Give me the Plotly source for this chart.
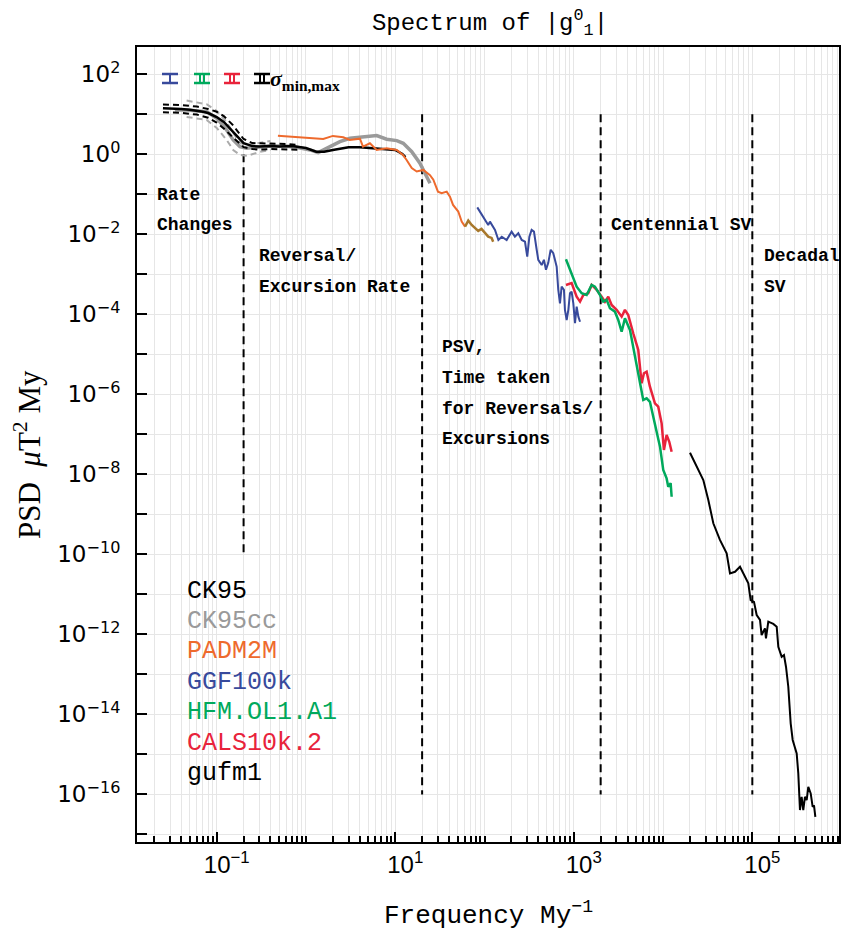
import plotly.graph_objects as go

# ---------------- data ----------------
ck95_f = [0.025, 0.03, 0.04, 0.05, 0.06, 0.07, 0.08, 0.09, 0.1, 0.12, 0.15, 0.18, 0.2, 0.25, 0.3, 0.4, 0.5,
          0.7, 1.0, 1.3, 1.6, 2.0, 2.5, 3.0, 4.0, 5.0, 6.0, 8.0, 10, 12, 13]
ck95_p = [14.1, 14.0, 13.5, 13.0, 12.3, 11.5, 10.7, 9.7, 8.5, 6.4, 3.8, 2.4, 1.9, 1.6, 1.55, 1.6, 1.55,
          1.6, 1.43, 1.16, 1.16, 1.28, 1.4, 1.5, 1.5, 1.45, 1.4, 1.35, 1.28, 1.02, 0.85]
ck95_bound_f = [0.025, 0.04, 0.06, 0.08, 0.1, 0.12, 0.15, 0.18, 0.2, 0.25, 0.3, 0.4, 0.6, 0.8]
ck95_hi_p = [17.5, 17.0, 15.5, 13.5, 11.5, 9.0, 5.5, 3.2, 2.4, 1.9, 1.85, 1.85, 1.8, 1.7]
ck95_lo_p = [11.2, 10.8, 9.8, 8.2, 6.2, 4.4, 2.7, 1.8, 1.5, 1.35, 1.3, 1.35, 1.35, 1.3]

ck95cc_f = [0.034, 0.046, 0.0772, 0.1, 0.129, 0.153, 0.182, 0.217, 0.28, 0.395, 0.557, 0.787, 1.11, 1.37,
            1.86, 2.40, 3.11, 4.38, 6.19, 8.02, 10.4, 12.3, 15.3, 18.9, 24.5]
ck95cc_p = [12.8, 12.8, 11.6, 7.94, 4.05, 2.28, 1.55, 1.41, 1.5, 1.61, 1.61, 1.5, 1.28, 1.10,
            1.55, 2.07, 2.51, 2.66, 2.92, 2.37, 2.19, 1.88, 1.16, 0.596, 0.188]
ck95cc_bound_f = [0.046, 0.077, 0.1, 0.129, 0.153, 0.182, 0.22, 0.3, 0.4]
ck95cc_hi_p = [21.9, 17.8, 12.1, 6.42, 3.41, 1.92, 1.71, 1.92, 2.15]
ck95cc_lo_p = [8.56, 7.2, 4.55, 2.28, 1.28, 0.96, 0.907, 1.14, 1.28]

padm2m_f = [0.485, 1.56, 2.0, 2.62, 3.1, 4.02, 4.35, 5.2, 6.2, 8.0, 10.4, 12.2, 13.4, 15.3, 17.4, 20.6,
            24.5, 26.7, 30.1, 33.1, 37.7, 41, 44.4, 50.8, 55.5, 60.5]
padm2m_p = [2.9, 2.4, 2.87, 2.66, 2.28, 2.45, 1.55, 1.88, 1.28, 1.41, 1.28, 0.96, 0.72, 0.45, 0.37, 0.405,
            0.30, 0.23, 0.116, 0.106, 0.116, 0.087, 0.054, 0.037, 0.0207, 0.0155]
padm2m_hf_f = [60.5, 65.8, 71.8, 78.5, 85, 92.5, 100.9, 110, 120, 125]
padm2m_hf_p = [0.0155, 0.0219, 0.0171, 0.0141, 0.0121, 0.0136, 0.0106, 0.0087, 0.0081, 0.0065]

ggf100k_f = [83, 96.9, 110, 115, 131, 143, 156, 177, 201, 219, 239, 261, 284, 301, 318, 337, 358, 384,
             400, 437, 463, 488, 517, 551, 589, 615, 643, 670, 700, 731, 776, 796, 832, 869, 906, 946,
             988, 1032, 1077, 1125, 1175]
ggf100k_p = [0.047, 0.0275, 0.0171, 0.0207, 0.0128, 0.0072, 0.0087, 0.0072, 0.0116, 0.0087, 0.0106,
             0.0072, 0.0065, 0.00275, 0.0087, 0.0128, 0.0116, 0.0041, 0.0023, 0.0017, 0.0023, 0.0013,
             0.0019, 0.0041, 0.00335, 0.0023, 0.00155, 0.00041, 0.000188, 0.00049, 0.00041, 0.000129,
             7.2e-5, 0.000129, 0.000335, 0.000367, 0.000188, 5.96e-5, 0.000155, 8.7e-5, 6.5e-5]

hfm_f = [817, 946, 1077, 1225, 1393, 1585, 1725, 1963, 2138, 2333, 2541, 2891, 3148, 3436, 3741, 4258,
         4844, 5510, 6000, 6550, 7130, 7770, 8470, 9240, 10050, 10960, 11430, 12160, 12480]
hfm_p = [0.00237, 0.00106, 0.00049, 0.000335, 0.000304, 0.00054, 0.00049, 0.000304, 0.000207, 0.000229,
         0.000141, 0.000116, 7.2e-5, 3.67e-5, 7.9e-5, 4.07e-5, 8.7e-6, 2.29e-6, 7.2e-7, 7.9e-7, 6.5e-7,
         2.75e-7, 1.16e-7, 4.9e-8, 1.29e-8, 7.9e-9, 4.9e-9, 6.0e-9, 2.75e-9]

cals_f = [817, 946, 1077, 1175, 1279, 1452, 1585, 1805, 2053, 2235, 2434, 2655, 3020, 3436, 3741, 4074,
          4634, 5272, 5754, 6109, 6547, 7130, 8110, 8830, 9640, 10230, 10960, 11740, 12480]
cals_p = [0.00054, 0.0006, 0.000275, 0.000207, 0.000304, 0.000335, 0.00054, 0.00041, 0.000275, 0.000207,
          0.000275, 0.000171, 0.000129, 8.7e-5, 0.000129, 9.6e-5, 3.35e-5, 1.29e-5, 1.88e-6, 3.35e-6,
          3.67e-6, 1.55e-6, 5.96e-7, 4.9e-7, 1.88e-7, 4.07e-8, 9.6e-8, 6.5e-8, 3.67e-8]

gufm1_f = [20040, 23800, 28250, 32140, 36560, 43370, 51600, 56230, 63970, 72780, 82800, 90160, 95800,
           104400, 111900, 121900, 127100, 138600, 142200, 151000, 171800, 187500, 195500, 213300, 226300,
           238300, 252900, 269000, 283300, 300600, 314000, 327300, 341700, 356800, 372300, 388900, 406300,
           423600, 450800, 474300, 490900, 508200]
gufm1_p = [3.47e-8, 1.55e-8, 7.2e-9, 2.29e-9, 5.96e-10, 2.29e-10, 1.06e-10, 3.35e-11, 3.67e-11, 4.9e-11,
           2.75e-11, 1.88e-11, 7.2e-12, 6.5e-12, 3.04e-12, 2.29e-12, 9.6e-13, 1.41e-12, 7.9e-13, 2.07e-12,
           1.82e-12, 1.55e-12, 4.9e-13, 2.75e-13, 3.04e-13, 1.55e-13, 4.9e-14, 5.96e-15, 2.29e-15, 1.55e-15,
           1.06e-15, 3.35e-16, 4.07e-17, 8.7e-17, 4.07e-17, 8.7e-17, 7.2e-17, 1.55e-16, 1.06e-16, 4.9e-17,
           5.3e-17, 2.75e-17]

# regime boundaries: frequency, top and bottom PSD of each dashed line
boundary_f = [0.2, 20, 2000, 1e5]
boundary_top = [1.0, 10, 10, 10]
boundary_bottom = [1e-10, 1e-16, 1e-16, 1e-16]

legend_names = ["CK95", "CK95cc", "PADM2M", "GGF100k", "HFM.OL1.A1", "CALS10k.2", "gufm1"]
legend_colors = ["#000000", "#9a9a9a", "#ee6a2d", "#384a9c", "#00a95c", "#e8233b", "#000000"]

x_major = [0.1, 10, 1e3, 1e5]
x_major_text = ["10<sup>−1</sup>", "10<sup>1</sup>", "10<sup>3</sup>", "10<sup>5</sup>"]
y_exponents = list(range(-17, 3))

# ---------------- styling ----------------
BLACK, GRAY, GRAYL = "#000000", "#9a9a9a", "#ababab"
ORANGE, BLUE, GREEN, RED, BROWN = "#ee6a2d", "#384a9c", "#00a95c", "#e8233b", "#a8782c"
MONO = "Liberation Mono"

fig = go.Figure()


def line(x, y, color, width, dash="solid"):
    fig.add_trace(go.Scatter(x=x, y=y, mode="lines", showlegend=False, hoverinfo="skip",
                             line=dict(color=color, width=width, dash=dash)))


for f, t, b in zip(boundary_f, boundary_top, boundary_bottom):
    line([f, f], [t, b], BLACK, 2, "8px,5px")

line(ck95cc_bound_f, ck95cc_hi_p, GRAYL, 2, "6px,4px")
line(ck95cc_bound_f, ck95cc_lo_p, GRAYL, 2, "6px,4px")
line(ck95cc_f, ck95cc_p, GRAY, 3.5)
line(ck95_bound_f, ck95_hi_p, BLACK, 2, "6px,4px")
line(ck95_bound_f, ck95_lo_p, BLACK, 2, "6px,4px")
line(ck95_f, ck95_p, BLACK, 2.5)
line(padm2m_f, padm2m_p, ORANGE, 2)
line(padm2m_hf_f, padm2m_hf_p, BROWN, 2.5)
line(ggf100k_f, ggf100k_p, BLUE, 2)
line(cals_f, cals_p, RED, 2.5)
line(hfm_f, hfm_p, GREEN, 2.5)
line(gufm1_f, gufm1_p, BLACK, 2)

# ---------------- axes ----------------
minor_x = [k * 10 ** d for d in range(-2, 6) for k in range(1, 10) if k * 10 ** d not in x_major]
fig.update_xaxes(type="log", range=[-1.893, 5.971], tickvals=x_major, ticktext=x_major_text,
                 ticks="inside", ticklen=10, tickwidth=1.5, tickcolor=BLACK, automargin=False,
                 showgrid=True, gridcolor="#e6e6e6", gridwidth=1,
                 minor=dict(tickvals=minor_x, ticks="inside", ticklen=6, tickwidth=1.5, tickcolor=BLACK,
                            showgrid=True, gridcolor="#e6e6e6", gridwidth=1),
                 showline=True, linecolor=BLACK, linewidth=2, mirror=True, zeroline=False,
                 tickfont=dict(family="Liberation Sans", size=24, color=BLACK), ticklabelshift=10)
fig.update_yaxes(type="log", range=[-17.19, 2.68], tickvals=[10.0 ** e for e in y_exponents],
                 ticktext=[("10<sup>%s</sup>" % (str(e).replace("-", "−"))) if e % 2 == 0 else "" for e in y_exponents],
                 ticks="inside", ticklen=10, tickwidth=1.5, tickcolor=BLACK, automargin=False,
                 showgrid=True, gridcolor="#e6e6e6", gridwidth=1,
                 showline=True, linecolor=BLACK, linewidth=2, mirror=True, zeroline=False,
                 tickfont=dict(family="DejaVu Sans", size=23, color=BLACK), ticklabelstandoff=10)

# ---------------- text ----------------
W, H, L, R, T, B = 844, 932, 137, 5, 47, 90
PW, PH = W - L - R, H - T - B


def px(xp):
    return (xp - L) / PW


def py(yp):
    return (H - B - yp) / PH


def text(x, y, s, size, color=BLACK, family=MONO, xanchor="left", angle=0):
    fig.add_annotation(x=px(x), y=py(y), xref="paper", yref="paper", text=s, showarrow=False,
                       xanchor=xanchor, yanchor="middle", textangle=angle,
                       font=dict(family=family, size=size, color=color))


for s, x, y in [("Rate", 155, 195), ("Changes", 155, 225),
                ("Reversal/", 257, 256), ("Excursion Rate", 257, 287),
                ("PSV,", 440, 347), ("Time taken", 440, 378), ("for Reversals/", 440, 409),
                ("Excursions", 440, 439), ("Centennial SV", 609, 225),
                ("Decadal", 762, 256), ("SV", 762, 287)]:
    text(x, y, "<b>" + s + "</b>", 18)

for i, (name, col) in enumerate(zip(legend_names, legend_colors)):
    text(185, 591 + 30.4 * i, name, 25, col)

text(488, 914, "Frequency My<sup>−1</sup>", 26, xanchor="center")
text(27, 455, "PSD&nbsp;&nbsp;<i>μ</i>T<sup>2</sup> My", 31, family="Liberation Serif", xanchor="center", angle=-90)

# sigma legend glyphs (error-bar symbols)
for cx, col, double in [(170, BLUE, False), (202, GREEN, True), (232, RED, True), (262, BLACK, True)]:
    for yy in (74, 83):
        fig.add_shape(type="line", xref="paper", yref="paper", x0=px(cx - 8), x1=px(cx + 8),
                      y0=py(yy), y1=py(yy), line=dict(color=col, width=2.5))
    offs = (-2, 2) if double else (0,)
    for o in offs:
        fig.add_shape(type="line", xref="paper", yref="paper", x0=px(cx + o), x1=px(cx + o),
                      y0=py(74), y1=py(83), line=dict(color=col, width=2))
text(268, 80, "<b><i>σ</i><sub>min,max</sub></b>", 22, family="Liberation Serif")

fig.update_layout(width=W, height=H, autosize=False, margin=dict(l=L, r=R, t=T, b=B),
                  plot_bgcolor="white", paper_bgcolor="white",
                  title=dict(text="Spectrum of |g<sup>0</sup><sub>1</sub>|", x=px(490), xref="paper",
                             xanchor="center", y=1 - 22 / H, yanchor="middle",
                             font=dict(family=MONO, size=24, color=BLACK)))

fig.write_html("out.html", config={"displayModeBar": False},
               post_script="document.body.style.margin='0px';")
